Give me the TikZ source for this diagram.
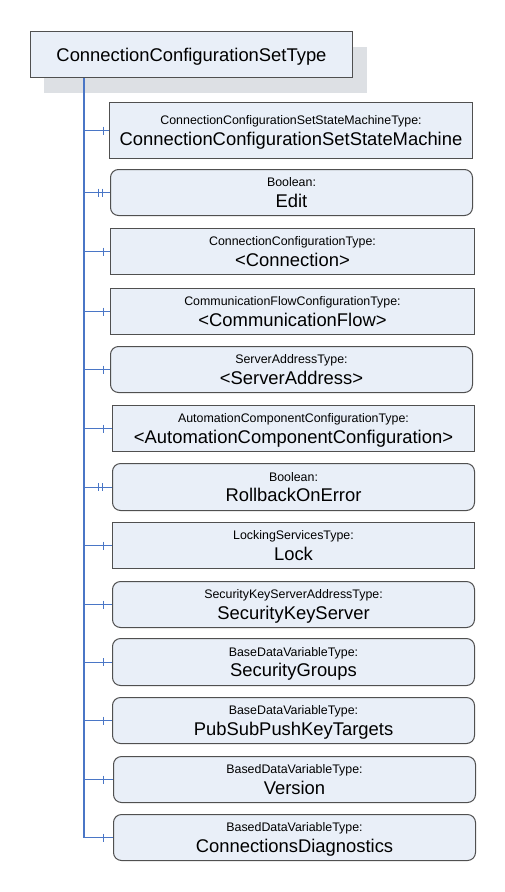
\documentclass[tikz,border=0pt]{standalone}
\usepackage{fontspec}
\setmainfont{Liberation Sans}
\begin{document}
\begin{tikzpicture}[x=1pt,y=-1pt,
  boxfill/.style={fill=boxblue,draw=boxline,line width=1pt,inner sep=0pt},
  rectbox/.style={boxfill,rectangle},
  roundbox/.style={boxfill,rectangle,rounded corners=8pt},
  typetxt/.style={font=\fontsize{12.4}{14}\selectfont,inner sep=0pt,anchor=base},
  nametxt/.style={font=\fontsize{18.4}{22}\selectfont,inner sep=0pt,anchor=base},
  conn/.style={draw=connblue,line width=1pt},
  trunk/.style={draw=connblue,line width=2pt}]
\definecolor{boxblue}{HTML}{E9EFF8}
\definecolor{boxline}{HTML}{505050}
\definecolor{connblue}{HTML}{4A76C6}
\definecolor{shadowgray}{HTML}{DDE0E4}
\useasboundingbox (0,0) rectangle (505,892);
\fill[white] (0,0) rectangle (505,892);
\begin{scope}[shift={(0.5,0.5)}]
% title with shadow
\fill[shadowgray] (43,46) rectangle (366,92);
\node[rectbox,minimum width=322pt,minimum height=46pt] (top) at (191,54) {};
\node[nametxt] (top-t) at ([yshift=-6.6pt]top.center) {ConnectionConfigurationSetType};
% boxes
\node[rectbox,minimum width=363pt,minimum height=56pt] (sm) at (290.5,130) {};
\node[roundbox,minimum width=362pt,minimum height=46pt] (edit) at (291,192) {};
\node[rectbox,minimum width=364pt,minimum height=46pt] (conn) at (292,251) {};
\node[rectbox,minimum width=364pt,minimum height=46pt] (flow) at (292,311) {};
\node[roundbox,minimum width=362pt,minimum height=46pt] (srv) at (291,369) {};
\node[rectbox,minimum width=362pt,minimum height=46pt] (acc) at (293,428) {};
\node[roundbox,minimum width=362pt,minimum height=47pt] (rb) at (293,486.5) {};
\node[rectbox,minimum width=362pt,minimum height=46pt] (lock) at (293,545) {};
\node[roundbox,minimum width=362pt,minimum height=46pt] (sks) at (293,604) {};
\node[roundbox,minimum width=362pt,minimum height=47pt] (sg) at (293,661.5) {};
\node[roundbox,minimum width=362pt,minimum height=46pt] (pub) at (293,720) {};
\node[roundbox,minimum width=362pt,minimum height=46pt] (ver) at (294,779) {};
\node[roundbox,minimum width=362pt,minimum height=46pt] (diag) at (294,837) {};
% texts
\foreach \n/\t/\l in {
  sm/ConnectionConfigurationSetStateMachineType:/ConnectionConfigurationSetStateMachine,
  edit/Boolean:/Edit,
  conn/ConnectionConfigurationType:/<Connection>,
  flow/CommunicationFlowConfigurationType:/<CommunicationFlow>,
  srv/ServerAddressType:/<ServerAddress>,
  acc/AutomationComponentConfigurationType:/<AutomationComponentConfiguration>,
  rb/Boolean:/RollbackOnError,
  lock/LockingServicesType:/Lock,
  sks/SecurityKeyServerAddressType:/SecurityKeyServer,
  sg/BaseDataVariableType:/SecurityGroups,
  pub/BaseDataVariableType:/PubSubPushKeyTargets,
  ver/BasedDataVariableType:/Version,
  diag/BasedDataVariableType:/ConnectionsDiagnostics}{
  \node[typetxt] (\n-t) at ([yshift=6pt]\n.center) {\t};
  \node[nametxt] (\n-l) at ([yshift=-14.6pt]\n.center) {\l};
}
% trunk
\coordinate (trunktop) at ([xshift=53.5pt,yshift=0.5pt]top.south west);
\coordinate (trunkbot) at (trunktop |- diag.west);
\draw[trunk] (trunktop) -- (trunkbot);
% branches with single ticks
\foreach \n in {sm,conn,flow,srv,acc,lock,sks,sg,pub,ver,diag}{
  \coordinate (j-\n) at (trunktop |- \n.west);
  \draw[conn] (j-\n) -- (\n.west);
  \draw[conn] ([xshift=19.5pt,yshift=4pt]j-\n) -- ([xshift=19.5pt,yshift=-4pt]j-\n);
}
% branches with double ticks
\foreach \n in {edit,rb}{
  \coordinate (j-\n) at (trunktop |- \n.west);
  \draw[conn] (j-\n) -- (\n.west);
  \draw[conn] ([xshift=14.5pt,yshift=4pt]j-\n) -- ([xshift=14.5pt,yshift=-4pt]j-\n);
  \draw[conn] ([xshift=18.5pt,yshift=4pt]j-\n) -- ([xshift=18.5pt,yshift=-4pt]j-\n);
}
\end{scope}
\end{tikzpicture}
\end{document}
